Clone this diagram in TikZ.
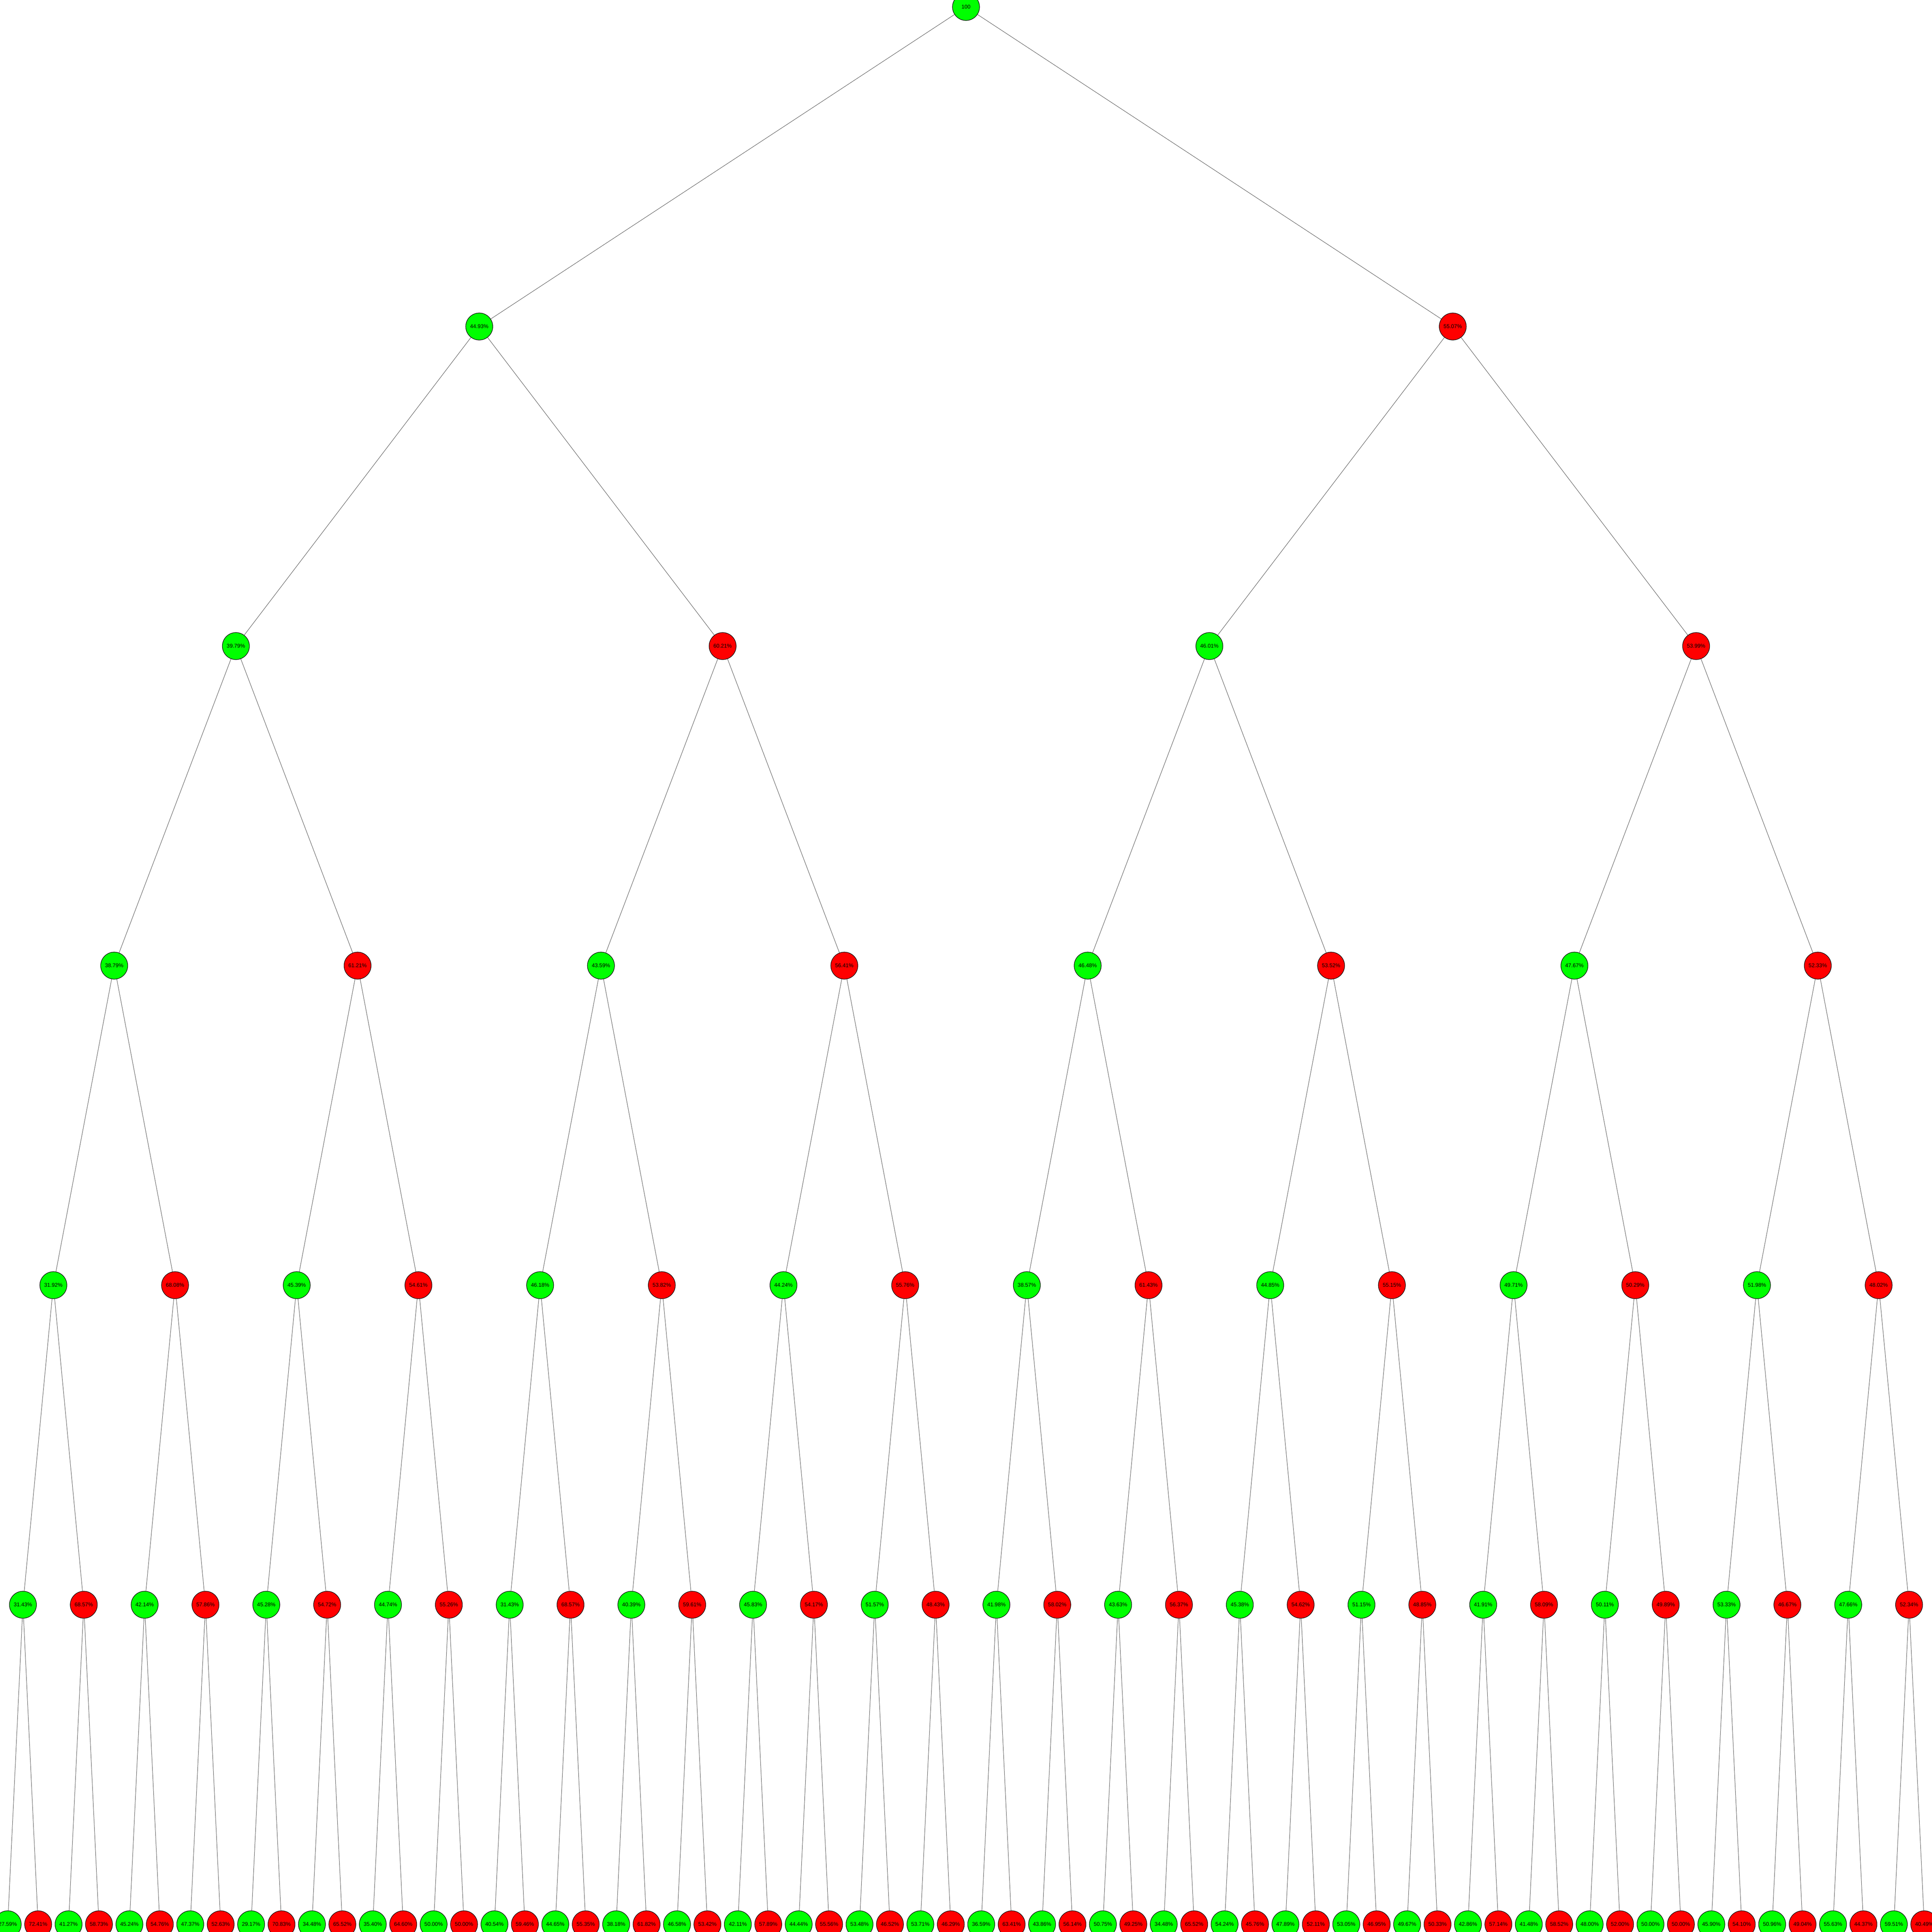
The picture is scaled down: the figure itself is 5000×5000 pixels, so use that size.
\documentclass[tikz,border=0pt]{standalone}
\usepackage{fontspec}
\setmainfont{Liberation Sans}
\tikzset{
  tnode/.style={circle, draw=black, line width=0.25pt, minimum size=14pt, inner sep=0pt,
    font=\fontsize{2.8pt}{3.2pt}\selectfont},
  edge/.style={draw=black!68, line width=0.2pt}
}
\newcommand\mklevel[2]{%
  \foreach \lab [count=\j from 0] in {#2} {
    \pgfmathsetmacro\xx{20+78.730*((\j+0.5)*2^(6-#1)-0.5)}
    \pgfmathsetmacro\yy{18+827*#1}
    \pgfmathtruncatemacro\odd{mod(\j,2)}
    \ifnum\odd=1 \def\col{red}\else\def\col{green}\fi
    \node[tnode, fill=\col] (n#1-\j) at (\xx,\yy) {\lab};
  }%
}
\begin{document}
\begin{tikzpicture}[x=0.2pt, y=-0.2pt]
\useasboundingbox (0,0) rectangle (5000,5000);
\fill[white] (0,0) rectangle (5000,5000);
\clip (0,0) rectangle (5000,5000);
\mklevel{0}{100}
\mklevel{1}{44.93\%,55.07\%}
\mklevel{2}{39.79\%,60.21\%,46.01\%,53.99\%}
\mklevel{3}{38.79\%,61.21\%,43.59\%,56.41\%,46.48\%,53.52\%,47.67\%,52.33\%}
\mklevel{4}{31.92\%,68.08\%,45.39\%,54.61\%,46.18\%,53.82\%,44.24\%,55.76\%,38.57\%,61.43\%,44.85\%,55.15\%,49.71\%,50.29\%,51.98\%,48.02\%}
\mklevel{5}{31.43\%,68.57\%,42.14\%,57.86\%,45.28\%,54.72\%,44.74\%,55.26\%,31.43\%,68.57\%,40.39\%,59.61\%,45.83\%,54.17\%,51.57\%,48.43\%,41.98\%,58.02\%,43.63\%,56.37\%,45.38\%,54.62\%,51.15\%,48.85\%,41.91\%,58.09\%,50.11\%,49.89\%,53.33\%,46.67\%,47.66\%,52.34\%}
\mklevel{6}{27.59\%,72.41\%,41.27\%,58.73\%,45.24\%,54.76\%,47.37\%,52.63\%,29.17\%,70.83\%,34.48\%,65.52\%,35.40\%,64.60\%,50.00\%,50.00\%,40.54\%,59.46\%,44.65\%,55.35\%,38.18\%,61.82\%,46.58\%,53.42\%,42.11\%,57.89\%,44.44\%,55.56\%,53.48\%,46.52\%,53.71\%,46.29\%,36.59\%,63.41\%,43.86\%,56.14\%,50.75\%,49.25\%,34.48\%,65.52\%,54.24\%,45.76\%,47.89\%,52.11\%,53.05\%,46.95\%,49.67\%,50.33\%,42.86\%,57.14\%,41.48\%,58.52\%,48.00\%,52.00\%,50.00\%,50.00\%,45.90\%,54.10\%,50.96\%,49.04\%,55.63\%,44.37\%,59.51\%,40.49\%}
\foreach \d in {1,...,6} {
  \pgfmathtruncatemacro\nn{2^\d-1}
  \pgfmathtruncatemacro\pd{\d-1}
  \foreach \j in {0,...,\nn} {
    \pgfmathtruncatemacro\p{floor(\j/2)}
    \draw[edge] (n\pd-\p) -- (n\d-\j);
  }
}
\end{tikzpicture}
\end{document}
